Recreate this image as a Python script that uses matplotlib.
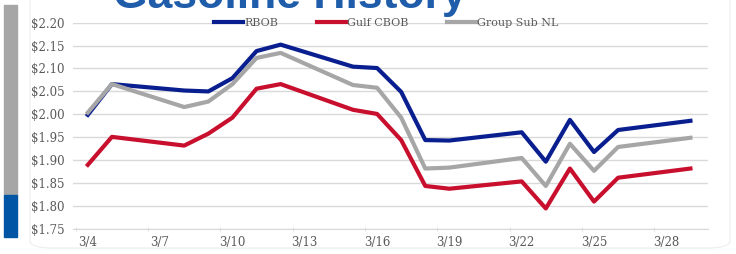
import matplotlib.pyplot as plt
from matplotlib.patches import Rectangle, FancyBboxPatch

# trading days, March 2021
dates = ["3/4", "3/5", "3/8", "3/9", "3/10", "3/11", "3/12", "3/15", "3/16",
         "3/17", "3/18", "3/19", "3/22", "3/23", "3/24", "3/25", "3/26", "3/29"]
rbob = [1.999, 2.066, 2.052, 2.050, 2.079, 2.138, 2.152, 2.104, 2.101,
        2.049, 1.944, 1.943, 1.961, 1.897, 1.988, 1.918, 1.966, 1.986]
gulf_cbob = [1.890, 1.951, 1.932, 1.958, 1.993, 2.056, 2.066, 2.010, 2.001,
             1.944, 1.844, 1.838, 1.854, 1.795, 1.882, 1.810, 1.862, 1.882]
group_sub_nl = [2.004, 2.066, 2.016, 2.028, 2.066, 2.123, 2.134, 2.064, 2.058,
                1.993, 1.882, 1.884, 1.905, 1.844, 1.936, 1.877, 1.929, 1.949]
tick_days = [4, 7, 10, 13, 16, 19, 22, 25, 28]
yticks = [1.75, 1.80, 1.85, 1.90, 1.95, 2.00, 2.05, 2.10, 2.15, 2.20]

days = [int(d.split("/")[1]) for d in dates]

fig = plt.figure(figsize=(7.36, 2.54), dpi=100)
ax = fig.add_axes([0.099, 0.098, 0.863, 0.813])

ax.plot(days, rbob, color="#0A1F8F", lw=3.0, label="RBOB", solid_joinstyle="round")
ax.plot(days, gulf_cbob, color="#C8102E", lw=3.0, label="Gulf CBOB", solid_joinstyle="round")
ax.plot(days, group_sub_nl, color="#A6A6A6", lw=3.0, label="Group Sub NL", solid_joinstyle="round")

ax.set_ylim(1.75, 2.20)
ax.set_xlim(3.38, 29.73)
ax.set_yticks(yticks)
ax.set_yticklabels(["$%.2f" % v for v in yticks])
ax.set_xticks(tick_days)
ax.set_xticklabels(["3/%d" % d for d in tick_days])
ax.set_xticks([d - 0.5 for d in tick_days], minor=True)

ax.grid(axis="y", color="#D9D9D9", lw=1.0)
ax.set_axisbelow(True)
for s in ["top", "right", "left"]:
    ax.spines[s].set_visible(False)
ax.spines["bottom"].set_color("#D9D9D9")
ax.tick_params(axis="y", length=0, pad=6, labelsize=8.5, labelcolor="#595959")
ax.tick_params(axis="x", which="major", length=0, pad=5, labelsize=8.5, labelcolor="#595959")
ax.tick_params(axis="x", which="minor", length=3, direction="inout", color="#D9D9D9")
for lab in ax.get_xticklabels() + ax.get_yticklabels():
    lab.set_fontfamily("DejaVu Serif")

leg = fig.legend(loc="center", bbox_to_anchor=(0.525, 0.911), ncol=3, frameon=False,
                 handlelength=2.6, handletextpad=0.1, columnspacing=3.5,
                 prop={"family": "DejaVu Serif", "size": 8})
for t in leg.get_texts():
    t.set_color("#595959")

# slide decoration
fig.patches.append(Rectangle((4 / 736, 1 - 195 / 254), 13 / 736, 190 / 254,
                             transform=fig.transFigure, color="#A6A6A6", zorder=0))
fig.patches.append(Rectangle((4 / 736, 1 - 237 / 254), 13 / 736, 42 / 254,
                             transform=fig.transFigure, color="#0055A5", zorder=0))
fig.patches.append(FancyBboxPatch((30 / 736, 6 / 254), 700 / 736, 300 / 254,
                                  boxstyle="round,pad=0,rounding_size=0.03",
                                  transform=fig.transFigure, fill=False,
                                  ec="#F0F0F0", lw=1.0, zorder=0))
fig.text(113 / 736, 1 - 8 / 254, "Gasoline History", fontsize=32, fontweight="bold",
         family="Liberation Sans", color="#1F5CAA", va="baseline", ha="left")

fig.savefig("out.png", dpi=100)
